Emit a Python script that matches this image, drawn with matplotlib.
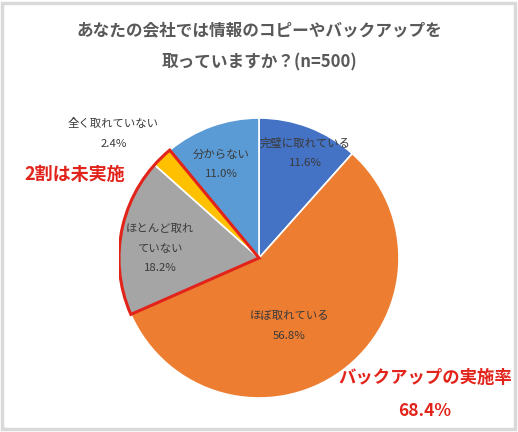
import numpy as np
import matplotlib
matplotlib.use("Agg")
import matplotlib.pyplot as plt
from matplotlib.patches import Wedge, Rectangle

plt.rcParams['font.family'] = ['Noto Sans CJK JP', 'DejaVu Sans']

categories = ["完璧に取れている", "ほぼ取れている", "ほとんど取れ\nていない", "全く取れていない", "分からない"]
values = [11.6, 56.8, 18.2, 2.4, 11.0]
colors = ["#4472C4", "#ED7D31", "#A5A5A5", "#FFC000", "#5B9BD5"]
title_lines = ["あなたの会社では情報のコピーやバックアップを", "取っていますか？(n=500)"]
note_left = "2割は未実施"
note_right = "バックアップの実施率"
note_right_value = "68.4%"

W, H = 518, 432
fig = plt.figure(figsize=(W / 100, H / 100), dpi=100)
fig.patches.append(Rectangle((0.004, 0.006), 0.99, 0.988, transform=fig.transFigure,
                             fill=False, edgecolor="#D9D9D9", lw=2.5))

cx, cy, R = 259, 258, 140
ax = fig.add_axes([(cx - R) / W, (H - cy - R) / H, 2 * R / W, 2 * R / H])
wedges, _ = ax.pie(values, colors=colors, startangle=90, counterclock=False,
                   radius=1.0, wedgeprops=dict(edgecolor="white", linewidth=1.2))
ax.set_xlim(-1, 1)
ax.set_ylim(-1, 1)
ax.set_aspect("equal")
ax.axis("off")

# label positions derived from wedge angles
dists = [0.82, 0.53, 0.71, None, 0.72]
adj = [-3, -12, 3.5, 0, 2]
lab_col = "#3A3A3A"
for w, cat, v, d, a in zip(wedges, categories, values, dists, adj):
    if d is None:
        continue
    mid = np.deg2rad((w.theta1 + w.theta2) / 2 + a)
    x, y = d * np.cos(mid), d * np.sin(mid)
    ax.text(x, y, f"{cat}\n{v:.1f}%", ha="center", va="center", fontsize=8.2,
            color=lab_col, linespacing=2.2)

# outside label for the small slice
ax.text(-1.04, 0.89, f"{categories[3]}\n{values[3]:.1f}%", ha="center", va="center",
        fontsize=8.2, color=lab_col, linespacing=2.2)

# red outline around the not-implemented group (gray + yellow slices)
ax.add_patch(Wedge((0, 0), 1.0, wedges[3].theta1, wedges[2].theta2,
                   fill=False, edgecolor="#E2231A", lw=2.2, zorder=5))

red = "#E2231A"
fig.text(259 / W, 1 - 30 / H, title_lines[0], ha="center", va="center", fontsize=12,
         fontweight="bold", color="#595959")
fig.text(259 / W, 1 - 62 / H, title_lines[1], ha="center", va="center", fontsize=12,
         fontweight="bold", color="#595959")
fig.text(75 / W, 1 - 174 / H, note_left, ha="center", va="center", fontsize=13,
         fontweight="bold", color=red)
fig.text(425 / W, 1 - 378 / H, note_right, ha="center", va="center", fontsize=12.5,
         fontweight="bold", color=red)
fig.text(425 / W, 1 - 411 / H, note_right_value, ha="center", va="center", fontsize=12.5,
         fontweight="bold", color=red)

fig.savefig("out.png", dpi=100)
